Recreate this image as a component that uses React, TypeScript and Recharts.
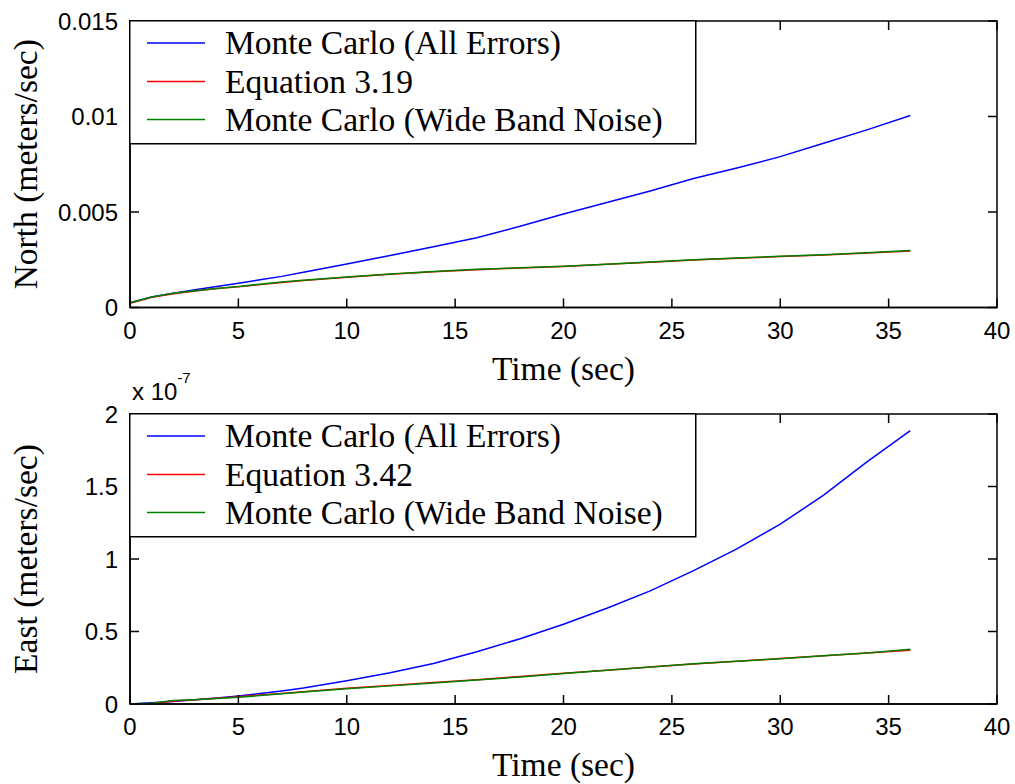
import { LineChart, Line, XAxis, YAxis, Label, ReferenceArea } from "recharts";

// time axis (sec)
const timeTicks = [0, 5, 10, 15, 20, 25, 30, 35, 40];

// North velocity error (meters/sec)
const northTime = [0, 1, 2, 3, 4, 5, 6, 7, 8, 10, 12, 14, 16, 18, 20, 22, 24, 26, 28, 30, 32, 34, 36];
const northAllErrors = [
  0.00025, 0.00055, 0.00075, 0.00093, 0.0011, 0.00127, 0.00145, 0.00163, 0.00185, 0.00228, 0.00272,
  0.00318, 0.00365, 0.00425, 0.0049, 0.0055, 0.0061, 0.00675, 0.0073, 0.0079, 0.0086, 0.0093, 0.01005,
];
const northEquation = [
  0.00022, 0.00053, 0.00072, 0.00086, 0.00099, 0.00108, 0.0012, 0.00131, 0.00141, 0.00158, 0.00174,
  0.00187, 0.00198, 0.00207, 0.00215, 0.00226, 0.00237, 0.00249, 0.00258, 0.00267, 0.00275, 0.00285, 0.00296,
];
const northWideBand = [
  0.00025, 0.00055, 0.00074, 0.00088, 0.001, 0.0011, 0.00122, 0.00133, 0.00143, 0.0016, 0.00176,
  0.00189, 0.002, 0.00208, 0.00216, 0.00227, 0.00238, 0.0025, 0.00259, 0.00268, 0.00276, 0.00286, 0.00298,
];
const northTicks = [0, 0.005, 0.01, 0.015];

// East velocity error (x 10^-7 meters/sec)
const eastTime = [0, 1, 2, 3, 4, 5, 6, 7, 8, 10, 12, 14, 16, 18, 20, 22, 24, 26, 28, 30, 32, 34, 36];
const eastAllErrors = [
  0, 0.008, 0.018, 0.03, 0.042, 0.056, 0.072, 0.09, 0.11, 0.16, 0.215,
  0.28, 0.36, 0.45, 0.55, 0.66, 0.78, 0.92, 1.07, 1.24, 1.44, 1.67, 1.885,
];
const eastEquation = [
  0, 0.004, 0.02, 0.03, 0.04, 0.05, 0.062, 0.073, 0.085, 0.108, 0.128,
  0.148, 0.168, 0.19, 0.212, 0.233, 0.255, 0.276, 0.295, 0.313, 0.333, 0.352, 0.37,
];
const eastWideBand = [
  0, 0.005, 0.025, 0.03, 0.038, 0.046, 0.058, 0.07, 0.082, 0.106, 0.125,
  0.145, 0.165, 0.187, 0.21, 0.232, 0.256, 0.278, 0.295, 0.312, 0.332, 0.352, 0.377,
];
const eastTicks = [0, 0.5, 1, 1.5, 2];

const BLUE = "#0000ff";
const RED = "#ff0000";
const GREEN = "#008000";

const CHART_W = 1015;
const PLOT_LEFT = 130;
const PLOT_RIGHT = 997;
const TICK_LEN = 9;

function buildRows(t: number[], a: number[], e: number[], w: number[]) {
  return t.map((time, i) => ({ t: time, all: a[i], eq: e[i], wide: w[i] }));
}

function LegendBox({ top, labels }: { top: number; labels: string[] }) {
  const colors = [BLUE, RED, GREEN];
  const rows = [23, 61.5, 99.5];
  return (
    <svg width={568} height={125} style={{ position: "absolute", left: 129, top, overflow: "visible" }}>
      <rect x={0.75} y={0.75} width={566} height={123} fill="#fff" stroke="#000" strokeWidth={1.5} />
      {labels.map((lab, i) => (
        <g key={lab}>
          <line x1={18} x2={76} y1={rows[i]} y2={rows[i]} stroke={colors[i]} strokeWidth={1.5} />
          <text x={96} y={rows[i] + 11} fontFamily="Liberation Serif" fontSize={33.5} fill="#000">
            {lab}
          </text>
        </g>
      ))}
    </svg>
  );
}

interface PanelProps {
  top: number;
  height: number;
  marginTop: number;
  xAxisHeight: number;
  rows: { t: number; all: number; eq: number; wide: number }[];
  yDomain: [number, number];
  yTicks: number[];
  yLabel: string;
}

function Panel({ top, height, marginTop, xAxisHeight, rows, yDomain, yTicks, yLabel }: PanelProps) {
  const plotTop = marginTop;
  const plotBottom = height - xAxisHeight;

  // MATLAB style: ticks point inward, on both opposite sides of the box
  const XTick = (p: any) => {
    const x = p.payload.coordinate;
    return (
      <g>
        <line x1={x} x2={x} y1={plotBottom} y2={plotBottom - TICK_LEN} stroke="#000" strokeWidth={1.5} />
        <line x1={x} x2={x} y1={plotTop} y2={plotTop + TICK_LEN} stroke="#000" strokeWidth={1.5} />
        <text x={x} y={plotBottom + 31} textAnchor="middle" fontFamily="Liberation Sans" fontSize={24} fill="#000">
          {p.payload.value}
        </text>
      </g>
    );
  };

  const YTick = (p: any) => {
    const y = p.payload.coordinate;
    return (
      <g>
        <line x1={PLOT_LEFT} x2={PLOT_LEFT + TICK_LEN} y1={y} y2={y} stroke="#000" strokeWidth={1.5} />
        <line x1={PLOT_RIGHT} x2={PLOT_RIGHT - TICK_LEN} y1={y} y2={y} stroke="#000" strokeWidth={1.5} />
        <text x={118} y={y + 8.5} textAnchor="end" fontFamily="Liberation Sans" fontSize={24} fill="#000">
          {String(p.payload.value)}
        </text>
      </g>
    );
  };

  return (
    <div style={{ position: "absolute", left: 0, top }}>
      <LineChart
        width={CHART_W}
        height={height}
        data={rows}
        margin={{ top: marginTop, right: CHART_W - PLOT_RIGHT, bottom: 0, left: 0 }}
      >
        <XAxis
          xAxisId="b"
          type="number"
          dataKey="t"
          domain={[0, 40]}
          ticks={timeTicks}
          interval={0}
          height={xAxisHeight}
          tickLine={false}
          tick={XTick}
          axisLine={{ stroke: "#000", strokeWidth: 1.5 }}
        >
          <Label
            content={(p: any) => (
              <text
                x={p.viewBox.x + p.viewBox.width / 2}
                y={p.viewBox.y + 72}
                textAnchor="middle"
                fontFamily="Liberation Serif"
                fontSize={33.5}
                fill="#000"
              >
                Time (sec)
              </text>
            )}
          />
        </XAxis>
        <YAxis
          yAxisId="l"
          type="number"
          domain={yDomain}
          ticks={yTicks}
          interval={0}
          width={PLOT_LEFT}
          tickLine={false}
          tick={YTick}
          axisLine={{ stroke: "#000", strokeWidth: 1.5 }}
        >
          <Label
            content={(p: any) => {
              const cx = 25;
              const cy = p.viewBox.y + p.viewBox.height / 2;
              return (
                <text
                  x={cx}
                  y={cy}
                  transform={`rotate(-90, ${cx}, ${cy})`}
                  textAnchor="middle"
                  dominantBaseline="central"
                  fontFamily="Liberation Serif"
                  fontSize={33.5}
                  fill="#000"
                >
                  {yLabel}
                </text>
              );
            }}
          />
        </YAxis>
        <ReferenceArea
          xAxisId="b"
          yAxisId="l"
          x1={0}
          x2={40}
          y1={yDomain[0]}
          y2={yDomain[1]}
          fill="none"
          fillOpacity={0}
          stroke="#000"
          strokeWidth={1.5}
          ifOverflow="extendDomain"
        />
        <Line xAxisId="b" yAxisId="l" type="linear" dataKey="all" stroke={BLUE} strokeWidth={1.5} dot={false} isAnimationActive={false} />
        <Line xAxisId="b" yAxisId="l" type="linear" dataKey="eq" stroke={RED} strokeWidth={1.5} dot={false} isAnimationActive={false} />
        <Line xAxisId="b" yAxisId="l" type="linear" dataKey="wide" stroke={GREEN} strokeWidth={1.5} dot={false} isAnimationActive={false} />
      </LineChart>
    </div>
  );
}

export default function App() {
  const northRows = buildRows(northTime, northAllErrors, northEquation, northWideBand);
  const eastRows = buildRows(eastTime, eastAllErrors, eastEquation, eastWideBand);

  return (
    <div style={{ position: "absolute", left: 0, top: 0, width: 1015, height: 784, background: "#fff" }}>
      <Panel
        top={0}
        height={392}
        marginTop={21}
        xAxisHeight={84.5}
        rows={northRows}
        yDomain={[0, 0.015]}
        yTicks={northTicks}
        yLabel="North (meters/sec)"
      />
      <Panel
        top={350}
        height={434}
        marginTop={64}
        xAxisHeight={80}
        rows={eastRows}
        yDomain={[0, 2]}
        yTicks={eastTicks}
        yLabel="East (meters/sec)"
      />
      <LegendBox
        top={20}
        labels={["Monte Carlo (All Errors)", "Equation 3.19", "Monte Carlo (Wide Band Noise)"]}
      />
      <LegendBox
        top={413}
        labels={["Monte Carlo (All Errors)", "Equation 3.42", "Monte Carlo (Wide Band Noise)"]}
      />
      <svg width={120} height={40} style={{ position: "absolute", left: 130, top: 365 }}>
        <text x={2} y={35} fontFamily="Liberation Sans" fontSize={24} fill="#000">
          x 10
          <tspan dy={-17} fontSize={15}>
            -7
          </tspan>
        </text>
      </svg>
    </div>
  );
}
